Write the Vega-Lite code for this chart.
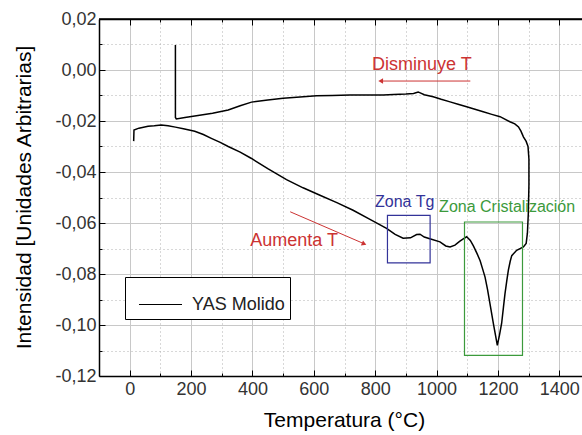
{
  "$schema": "https://vega.github.io/schema/vega-lite/v6.json",
  "width": 491,
  "height": 357,
  "autosize": {"type": "none"},
  "padding": {"left": 99, "top": 19, "right": -8, "bottom": 59},
  "background": "white",
  "config": {
    "view": {"stroke": null},
    "font": "Liberation Sans",
    "axis": {"labelFont": "Liberation Sans", "titleFont": "Liberation Sans"},
    "legend": {"labelFont": "Liberation Sans"}
  },
  "datasets": {
    "curve": [
      {"i": 1, "T": 13, "v": -0.0279},
      {"i": 2, "T": 14, "v": -0.0235},
      {"i": 3, "T": 30, "v": -0.0228},
      {"i": 4, "T": 60, "v": -0.0221},
      {"i": 5, "T": 80, "v": -0.0219},
      {"i": 6, "T": 103, "v": -0.0216},
      {"i": 7, "T": 125, "v": -0.0219},
      {"i": 8, "T": 149, "v": -0.0224},
      {"i": 9, "T": 175, "v": -0.0230},
      {"i": 10, "T": 212, "v": -0.0240},
      {"i": 11, "T": 240, "v": -0.0253},
      {"i": 12, "T": 266, "v": -0.0268},
      {"i": 13, "T": 295, "v": -0.0284},
      {"i": 14, "T": 321, "v": -0.0300},
      {"i": 15, "T": 360, "v": -0.0322},
      {"i": 16, "T": 397, "v": -0.0347},
      {"i": 17, "T": 450, "v": -0.0387},
      {"i": 18, "T": 511, "v": -0.0430},
      {"i": 19, "T": 565, "v": -0.0462},
      {"i": 20, "T": 620, "v": -0.0491},
      {"i": 21, "T": 675, "v": -0.0520},
      {"i": 22, "T": 728, "v": -0.0550},
      {"i": 23, "T": 780, "v": -0.0584},
      {"i": 24, "T": 837, "v": -0.0621},
      {"i": 25, "T": 865, "v": -0.0645},
      {"i": 26, "T": 891, "v": -0.0660},
      {"i": 27, "T": 915, "v": -0.0658},
      {"i": 28, "T": 935, "v": -0.0645},
      {"i": 29, "T": 946, "v": -0.0644},
      {"i": 30, "T": 960, "v": -0.0655},
      {"i": 31, "T": 978, "v": -0.0662},
      {"i": 32, "T": 1011, "v": -0.0674},
      {"i": 33, "T": 1030, "v": -0.0690},
      {"i": 34, "T": 1044, "v": -0.0694},
      {"i": 35, "T": 1060, "v": -0.0687},
      {"i": 36, "T": 1075, "v": -0.0672},
      {"i": 37, "T": 1087, "v": -0.0662},
      {"i": 38, "T": 1098, "v": -0.0654},
      {"i": 39, "T": 1110, "v": -0.0668},
      {"i": 40, "T": 1120, "v": -0.0690},
      {"i": 41, "T": 1132, "v": -0.0720},
      {"i": 42, "T": 1142, "v": -0.0748},
      {"i": 43, "T": 1150, "v": -0.0780},
      {"i": 44, "T": 1158, "v": -0.0812},
      {"i": 45, "T": 1166, "v": -0.0860},
      {"i": 46, "T": 1174, "v": -0.0916},
      {"i": 47, "T": 1185, "v": -0.0994},
      {"i": 48, "T": 1192, "v": -0.1040},
      {"i": 49, "T": 1198, "v": -0.1080},
      {"i": 50, "T": 1205, "v": -0.1040},
      {"i": 51, "T": 1212, "v": -0.0994},
      {"i": 52, "T": 1218, "v": -0.0930},
      {"i": 53, "T": 1223, "v": -0.0877},
      {"i": 54, "T": 1229, "v": -0.0825},
      {"i": 55, "T": 1234, "v": -0.0785},
      {"i": 56, "T": 1240, "v": -0.0750},
      {"i": 57, "T": 1245, "v": -0.0728},
      {"i": 58, "T": 1261, "v": -0.0707},
      {"i": 59, "T": 1283, "v": -0.0694},
      {"i": 60, "T": 1292, "v": -0.0680},
      {"i": 61, "T": 1296, "v": -0.0640},
      {"i": 62, "T": 1299, "v": -0.0563},
      {"i": 63, "T": 1301, "v": -0.0450},
      {"i": 64, "T": 1301, "v": -0.0350},
      {"i": 65, "T": 1298, "v": -0.0300},
      {"i": 66, "T": 1292, "v": -0.0280},
      {"i": 67, "T": 1283, "v": -0.0262},
      {"i": 68, "T": 1275, "v": -0.0240},
      {"i": 69, "T": 1267, "v": -0.0223},
      {"i": 70, "T": 1255, "v": -0.0211},
      {"i": 71, "T": 1239, "v": -0.0203},
      {"i": 72, "T": 1207, "v": -0.0183},
      {"i": 73, "T": 1180, "v": -0.0174},
      {"i": 74, "T": 1152, "v": -0.0164},
      {"i": 75, "T": 1125, "v": -0.0154},
      {"i": 76, "T": 1098, "v": -0.0144},
      {"i": 77, "T": 1070, "v": -0.0134},
      {"i": 78, "T": 1044, "v": -0.0125},
      {"i": 79, "T": 1015, "v": -0.0115},
      {"i": 80, "T": 989, "v": -0.0105},
      {"i": 81, "T": 960, "v": -0.0097},
      {"i": 82, "T": 940, "v": -0.0086},
      {"i": 83, "T": 925, "v": -0.0092},
      {"i": 84, "T": 900, "v": -0.0094},
      {"i": 85, "T": 860, "v": -0.0096},
      {"i": 86, "T": 826, "v": -0.0098},
      {"i": 87, "T": 770, "v": -0.0098},
      {"i": 88, "T": 718, "v": -0.0098},
      {"i": 89, "T": 660, "v": -0.0100},
      {"i": 90, "T": 609, "v": -0.0101},
      {"i": 91, "T": 555, "v": -0.0106},
      {"i": 92, "T": 500, "v": -0.0111},
      {"i": 93, "T": 450, "v": -0.0118},
      {"i": 94, "T": 397, "v": -0.0126},
      {"i": 95, "T": 360, "v": -0.0140},
      {"i": 96, "T": 321, "v": -0.0157},
      {"i": 97, "T": 270, "v": -0.0170},
      {"i": 98, "T": 212, "v": -0.0180},
      {"i": 99, "T": 180, "v": -0.0186},
      {"i": 100, "T": 152, "v": -0.0192},
      {"i": 101, "T": 149, "v": -0.0186},
      {"i": 102, "T": 149, "v": 0.0098}
    ],
    "frame": [{"top": 0.02}],
    "tgbox": [{"x1": 840, "x2": 979, "y1": -0.0570, "y2": -0.0756}],
    "crbox": [{"x1": 1091, "x2": 1280, "y1": -0.0596, "y2": -0.1119}],
    "arrows": [
      {"a": 816, "b": 1110, "c": -0.00433, "d": -0.00433},
      {"a": 523, "b": 767, "c": -0.0556, "d": -0.0683}
    ],
    "headLeft": [{"T": 818, "v": -0.00433}],
    "headDown": [{"T": 764, "v": -0.0682}],
    "redText": [
      {"label": "Disminuye T", "T": 952, "v": 0.00195},
      {"label": "Aumenta T", "T": 536, "v": -0.0671}
    ],
    "tgText": [{"label": "Zona Tg", "T": 896, "v": -0.0519}],
    "crText": [{"label": "Zona Cristalización", "T": 1230, "v": -0.0538}]
  },
  "layer": [
    {
      "data": {"name": "curve"},
      "mark": {"type": "line", "strokeWidth": 1.5},
      "encoding": {
        "x": {"field": "T", "type": "quantitative", "scale": {"domain": [-100, 1500], "nice": false, "zero": false},
          "axis": {"orient": "bottom", "values": [0, 100, 200, 300, 400, 500, 600, 700, 800, 900, 1000, 1100, 1200, 1300, 1400],
            "labelExpr": "datum.value % 200 == 0 ? format(datum.value, 'd') : ''",
            "labelFontSize": 18, "labelColor": "#333", "labelPadding": 10, "labelFlush": false, "labelOverlap": false,
            "tickSize": {"condition": {"test": "datum.value % 200 == 0", "value": -6}, "value": -3},
            "tickColor": "#000", "domainColor": "#000", "domainWidth": 1.5,
            "grid": true,
            "gridColor": {"condition": {"test": "datum.value % 200 == 0", "value": "#c8c8c8"}, "value": "#b0b0b0"},
            "gridDash": {"condition": {"test": "datum.value % 200 == 0", "value": []}, "value": [1, 3]},
            "title": "Temperatura (°C)", "titleFontSize": 21, "titleFontWeight": "normal", "titleColor": "#000", "titleX": 245, "titleY": 50, "titleBaseline": "alphabetic"}},
        "y": {"field": "v", "type": "quantitative", "scale": {"domain": [-0.12, 0.02], "nice": false, "zero": false},
          "axis": {"orient": "left", "values": [-0.12, -0.11, -0.1, -0.09, -0.08, -0.07, -0.06, -0.05, -0.04, -0.03, -0.02, -0.01, 0, 0.01, 0.02],
            "labelExpr": "abs(round(datum.value * 100)) % 2 == 0 ? (datum.value < -0.0001 ? '-' : '') + replace(format(abs(datum.value), '.2f'), '.', ',') : ''",
            "labelFontSize": 18, "labelColor": "#333", "labelPadding": 9, "labelFlush": false, "labelOverlap": false,
            "tickSize": {"condition": {"test": "abs(round(datum.value * 100)) % 2 == 0", "value": -6}, "value": -3},
            "tickColor": "#000", "domainColor": "#000", "domainWidth": 1.5,
            "grid": true,
            "gridColor": {"condition": {"test": "abs(round(datum.value * 100)) % 2 == 0", "value": "#c8c8c8"}, "value": "#b0b0b0"},
            "gridDash": {"condition": {"test": "abs(round(datum.value * 100)) % 2 == 0", "value": []}, "value": [1, 3]},
            "title": "Intensidad [Unidades Arbitrarias]", "titleFontSize": 21, "titleFontWeight": "normal", "titleColor": "#000", "titleAngle": -90, "titleX": -69, "titleY": 178, "titleAlign": "center", "titleBaseline": "alphabetic"}},
        "order": {"field": "i", "type": "quantitative"},
        "color": {"datum": "YAS Molido", "type": "nominal", "scale": {"range": ["#000000"]},
          "legend": {"orient": "none", "legendX": 26, "legendY": 258, "title": null, "padding": 5, "strokeColor": "#000", "fillColor": "#fff", "symbolType": "stroke", "symbolSize": 1850, "symbolStrokeWidth": 1, "symbolOffset": 8, "labelOffset": 9, "labelFontSize": 18, "labelColor": "#222"}}
      }
    },
    {
      "data": {"name": "frame"},
      "mark": {"type": "rule", "color": "#000000", "strokeWidth": 1.5},
      "encoding": {
        "y": {"field": "top", "type": "quantitative", "scale": {"domain": [-0.12, 0.02], "nice": false, "zero": false}, "axis": null}
      }
    },
    {
      "data": {"name": "tgbox"},
      "mark": {"type": "rect", "fillOpacity": 0, "stroke": "#333399", "strokeWidth": 1.2},
      "encoding": {
        "x": {"field": "x1", "type": "quantitative", "scale": {"domain": [-100, 1500], "nice": false, "zero": false},
          "axis": {"orient": "top", "values": [0, 100, 200, 300, 400, 500, 600, 700, 800, 900, 1000, 1100, 1200, 1300, 1400], "labels": false, "domain": true, "domainColor": "#000", "domainWidth": 1.5, "ticks": true,
            "tickSize": {"condition": {"test": "datum.value % 200 == 0", "value": -6}, "value": -3},
            "tickColor": "#000", "grid": false, "title": null}},
        "x2": {"field": "x2"},
        "y": {"field": "y1", "type": "quantitative", "scale": {"domain": [-0.12, 0.02], "nice": false, "zero": false}, "axis": null},
        "y2": {"field": "y2"}
      }
    },
    {
      "data": {"name": "crbox"},
      "mark": {"type": "rect", "fillOpacity": 0, "stroke": "#3c9a3c", "strokeWidth": 1.2},
      "encoding": {
        "x": {"field": "x1", "type": "quantitative", "scale": {"domain": [-100, 1500], "nice": false, "zero": false}, "axis": null},
        "x2": {"field": "x2"},
        "y": {"field": "y1", "type": "quantitative", "scale": {"domain": [-0.12, 0.02], "nice": false, "zero": false}, "axis": null},
        "y2": {"field": "y2"}
      }
    },
    {
      "data": {"name": "arrows"},
      "mark": {"type": "rule", "color": "#cc3333", "strokeWidth": 1},
      "encoding": {
        "x": {"field": "a", "type": "quantitative", "scale": {"domain": [-100, 1500], "nice": false, "zero": false}, "axis": null},
        "x2": {"field": "b"},
        "y": {"field": "c", "type": "quantitative", "scale": {"domain": [-0.12, 0.02], "nice": false, "zero": false}, "axis": null},
        "y2": {"field": "d"}
      }
    },
    {
      "data": {"name": "headLeft"},
      "mark": {"type": "point", "shape": "triangle-left", "filled": true, "color": "#cc3333", "size": 30, "opacity": 1},
      "encoding": {
        "x": {"field": "T", "type": "quantitative", "scale": {"domain": [-100, 1500], "nice": false, "zero": false}, "axis": null},
        "y": {"field": "v", "type": "quantitative", "scale": {"domain": [-0.12, 0.02], "nice": false, "zero": false}, "axis": null}
      }
    },
    {
      "data": {"name": "headDown"},
      "mark": {"type": "point", "shape": "triangle-right", "angle": 23, "filled": true, "color": "#cc3333", "size": 30, "opacity": 1},
      "encoding": {
        "x": {"field": "T", "type": "quantitative", "scale": {"domain": [-100, 1500], "nice": false, "zero": false}, "axis": null},
        "y": {"field": "v", "type": "quantitative", "scale": {"domain": [-0.12, 0.02], "nice": false, "zero": false}, "axis": null}
      }
    },
    {
      "data": {"name": "redText"},
      "mark": {"type": "text", "color": "#cc3333", "fontSize": 18, "font": "Liberation Sans", "align": "center", "baseline": "middle"},
      "encoding": {
        "x": {"field": "T", "type": "quantitative", "scale": {"domain": [-100, 1500], "nice": false, "zero": false}, "axis": null},
        "y": {"field": "v", "type": "quantitative", "scale": {"domain": [-0.12, 0.02], "nice": false, "zero": false}, "axis": null},
        "text": {"field": "label"}
      }
    },
    {
      "data": {"name": "tgText"},
      "mark": {"type": "text", "color": "#333399", "fontSize": 16, "font": "Liberation Sans", "align": "center", "baseline": "middle"},
      "encoding": {
        "x": {"field": "T", "type": "quantitative", "scale": {"domain": [-100, 1500], "nice": false, "zero": false}, "axis": null},
        "y": {"field": "v", "type": "quantitative", "scale": {"domain": [-0.12, 0.02], "nice": false, "zero": false}, "axis": null},
        "text": {"field": "label"}
      }
    },
    {
      "data": {"name": "crText"},
      "mark": {"type": "text", "color": "#3c9a3c", "fontSize": 16, "font": "Liberation Sans", "align": "center", "baseline": "middle"},
      "encoding": {
        "x": {"field": "T", "type": "quantitative", "scale": {"domain": [-100, 1500], "nice": false, "zero": false}, "axis": null},
        "y": {"field": "v", "type": "quantitative", "scale": {"domain": [-0.12, 0.02], "nice": false, "zero": false}, "axis": null},
        "text": {"field": "label"}
      }
    }
  ],
  "resolve": {"axis": {"x": "independent", "y": "independent"}}
}
